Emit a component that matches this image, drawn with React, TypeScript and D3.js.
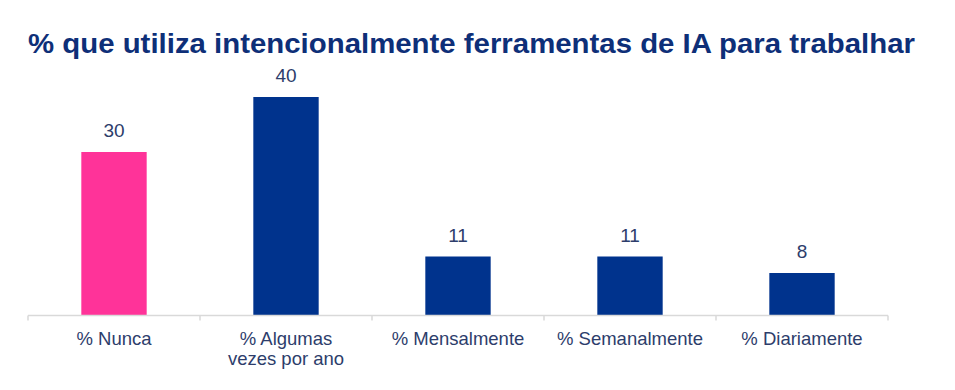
import { scaleBand, scaleLinear } from "d3";

const categories = ["% Nunca", "% Algumas vezes por ano", "% Mensalmente", "% Semanalmente", "% Diariamente"];
const labelLines = [["% Nunca"], ["% Algumas", "vezes por ano"], ["% Mensalmente"], ["% Semanalmente"], ["% Diariamente"]];
const values = [30, 40, 11, 11, 8];
const barColors = ["#ff3399", "#00338d", "#00338d", "#00338d", "#00338d"];

const title = "% que utiliza intencionalmente ferramentas de IA para trabalhar";

export default function App() {
  const width = 955;
  const height = 390;
  const left = 28;
  const right = 888;
  const axisY = 315.5;

  const x = scaleBand<string>().domain(categories).range([left, right]).padding(0);
  const y = scaleLinear().domain([0, 40]).range([317, 97]);
  const bw = x.bandwidth();
  const barW = bw * 0.38;
  const font = "'Liberation Sans', Arial, sans-serif";

  return (
    <svg width={width} height={height} style={{ position: "absolute", left: 0, top: 0 }}>
      <rect width={width} height={height} fill="#fff" />
      <text
        x={28}
        y={53}
        fontFamily={font}
        fontWeight="bold"
        fontSize={28}
        fill="#0e2f78"
        textLength={887}
        lengthAdjust="spacingAndGlyphs"
      >
        {title}
      </text>
      {categories.map((c, i) => (
        <g key={c}>
          <rect
            x={x(c)! + (bw - barW) / 2}
            y={y(values[i])}
            width={barW}
            height={axisY - y(values[i])}
            fill={barColors[i]}
          />
          <text
            x={x(c)! + bw / 2}
            y={y(values[i]) - 15}
            textAnchor="middle"
            fontFamily={font}
            fontSize={19}
            fill="#2d3d6b"
          >
            {values[i]}
          </text>
          {labelLines[i].map((ln, j) => (
            <text
              key={j}
              x={x(c)! + bw / 2}
              y={345 + j * 20}
              textAnchor="middle"
              fontFamily={font}
              fontSize={18.5}
              fill="#2d3d6b"
            >
              {ln}
            </text>
          ))}
        </g>
      ))}
      <line x1={left} x2={right} y1={axisY} y2={axisY} stroke="#d9d9d9" strokeWidth={1.5} />
      {[...categories.map((c) => x(c)!), right].map((t, i) => (
        <line key={i} x1={t} x2={t} y1={axisY} y2={axisY + 5} stroke="#d9d9d9" strokeWidth={1.5} />
      ))}
    </svg>
  );
}
